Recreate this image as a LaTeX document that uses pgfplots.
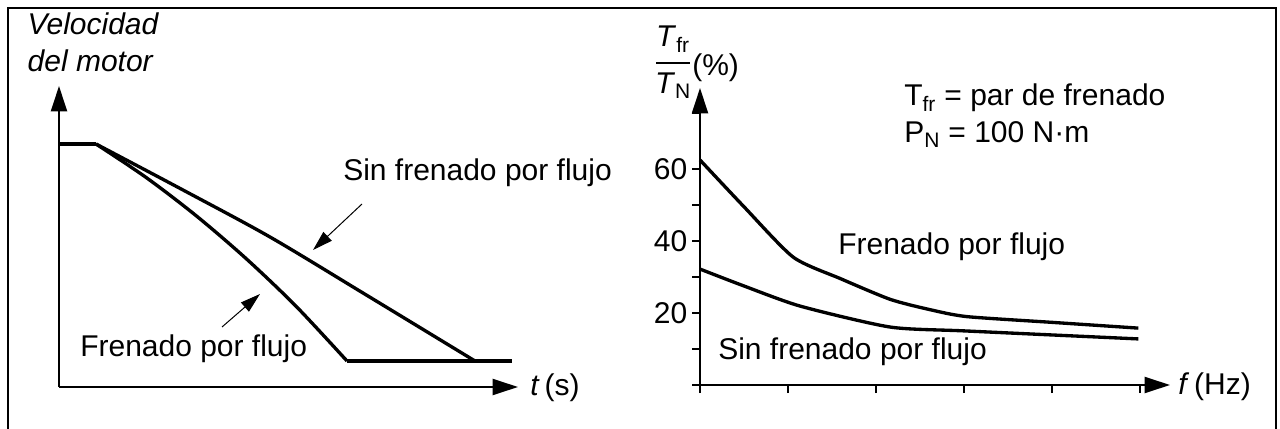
\documentclass[border=0pt]{standalone}
\usepackage{pgfplots}
\pgfplotsset{compat=1.18}
\usepackage{fontspec}
\setmainfont{Liberation Sans}
\usetikzlibrary{arrows.meta}

% 1 px of the reference = 0.75pt
\begin{document}
\begin{tikzpicture}[x=0.75pt, y=0.75pt, font=\fontsize{22.5}{27}\selectfont]
\useasboundingbox (0,0) rectangle (1280,428);
\draw[line width=1.5pt] (8,-4) -- (8,420) -- (1276,420) -- (1276,-4);

\pgfplotsset{
  every axis/.append style={
    scale only axis, anchor=south west, clip=false,
    axis lines=left, enlargelimits=false,
    axis line style={line width=1.5pt, -{Triangle[length=19pt,width=12pt]}},
    tick style={line width=1.2pt, black},
    tick align=outside, major tick length=6pt,
    tick label style={font=\fontsize{22.5}{27}\selectfont},
  },
  curve/.style={black, line width=2.5pt, line join=round, no marks},
}

% ---- left: motor speed vs time (pixel units)
\begin{axis}[at={(44.25pt,30.75pt)}, width=344.25pt, height=225.75pt,
  xmin=0, xmax=459, ymin=0, ymax=301, xtick=\empty, ytick=\empty]
\addplot[curve] coordinates {(0,243) (37,243)};
\addplot[curve, smooth, tension=0.5] coordinates {
  (37,243) (87,209.6) (137,171.4) (187,128.5) (237,80.8) (288,26)};
\addplot[curve, smooth, tension=0.5] coordinates {
  (37,243) (124,197) (211,150) (304,94) (416,26)};
\addplot[curve] coordinates {(288,26) (453,26)};
\end{axis}

% ---- right: braking torque vs frequency
\begin{axis}[at={(525pt,32.25pt)}, width=352.5pt, height=222.75pt,
  xmin=0, xmax=5.34, ymin=0, ymax=82.5,
  xtick={0,1,2,3,4,5}, xticklabels={},
  ytick={0,10,20,30,40,50,60,75.6}, yticklabels={,,20,,40,,60,}]
\addplot[curve, smooth, tension=0.4] coordinates {
  (0,62.5) (0.5,49.5) (1.06,35.5) (1.6,29.5) (2.16,23.8) (2.6,21) (3.03,19) (4.0,17.4) (4.98,15.8)};
\addplot[curve, smooth, tension=0.4] coordinates {
  (0,32.2) (0.5,27.5) (1.14,21.9) (2.16,16.1) (3.03,15.0) (4.98,12.8)};
\end{axis}

% labels, left panel
\node[anchor=base west, font=\fontsize{22.5}{27}\selectfont\itshape] at (23,393) {Velocidad};
\node[anchor=base west, font=\fontsize{22.5}{27}\selectfont\itshape] at (23,356) {del motor};
\node[anchor=base west, inner sep=0pt] at (530,32) {\textit{t}\,(s)};
\node[anchor=base west, inner sep=0pt] at (343,247) {Sin frenado por flujo};
\node[anchor=base west, inner sep=0pt] at (80,71) {Frenado por flujo};
\draw[line width=0.75pt, -{Triangle[length=15pt,width=9pt]}] (362,224) -- (313,178);
\draw[line width=0.75pt, -{Triangle[length=15pt,width=9pt]}] (222,101) -- (260,134);

% labels, right panel
\node[anchor=base, inner sep=0pt] at (673,381) {\textit{T}\textsubscript{fr}};
\draw[line width=1.2pt] (656,365) -- (690,365);
\node[anchor=base, inner sep=0pt] at (673,334) {\textit{T}\textsubscript{N}};
\node[anchor=west, inner sep=0pt] at (692,360) {(\%)};
\node[anchor=base west, inner sep=0pt] at (1178,33) {\textit{f}\,(Hz)};
\node[anchor=base west, inner sep=0pt] at (904,322) {T\textsubscript{fr} = par de frenado};
\node[anchor=base west, inner sep=0pt] at (904,285) {P\textsubscript{N} = 100 N·m};
\node[anchor=base west, inner sep=0pt] at (838,173) {Frenado por flujo};
\node[anchor=base west, inner sep=0pt] at (718,68) {Sin frenado por flujo};
\end{tikzpicture}
\end{document}
